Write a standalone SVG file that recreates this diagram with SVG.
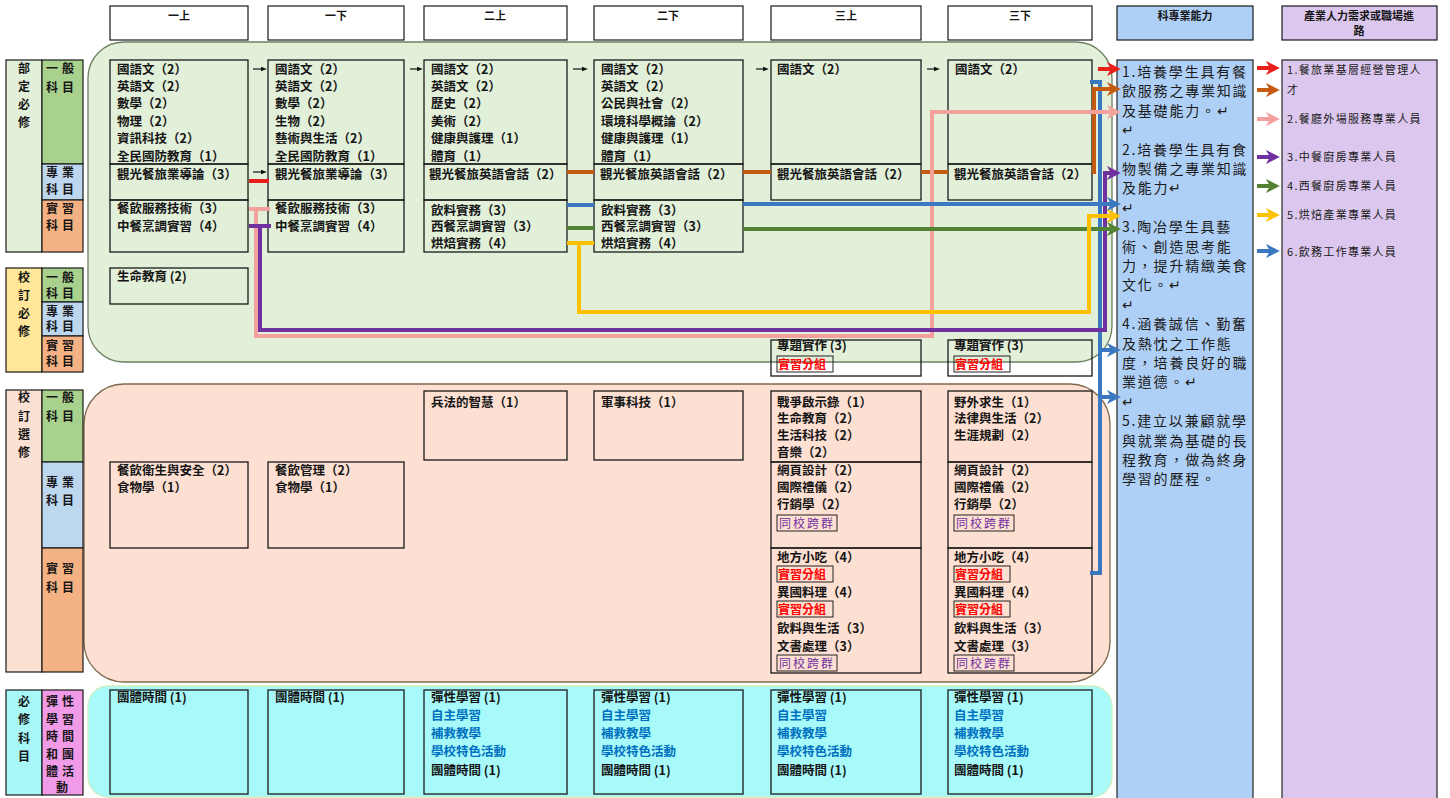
<svg xmlns="http://www.w3.org/2000/svg" width="1450" height="798" viewBox="0 0 1450 798">
<style>
.box{fill:none;stroke:#1a1a1a;stroke-width:1.3}
.hbox{fill:#fff;stroke:#1a1a1a;stroke-width:1.2}
.t{font-family:"Noto Sans CJK TC","Noto Sans CJK SC",sans-serif;font-size:12.5px;font-weight:bold;fill:#151515}
.h{font-size:11px;text-anchor:middle}
.lb{font-size:12px;text-anchor:middle}
.cap{font-size:14px;font-weight:normal;letter-spacing:1.8px;fill:#1a1a1a}
.job{font-size:11px;font-weight:normal;letter-spacing:1.3px;fill:#1a1a1a}
.red{fill:#ff0000;font-size:12px}
.pur{fill:#7030a0;font-weight:normal;font-size:12px;letter-spacing:2px}
.blu{fill:#0070c0}
.tag{fill:none;stroke:#222;stroke-width:1}
.c{fill:none;stroke-width:4;stroke-linejoin:miter}
.k{fill:none;stroke:#111;stroke-width:1.2}
</style>
<defs>
<marker id="aR" viewBox="0 0 10 10" refX="3" refY="5" markerWidth="3.5" markerHeight="3.5" orient="auto"><path d="M0,0 L10,5 L0,10 L3,5 z" fill="#e8201c"/></marker>
<marker id="aO" viewBox="0 0 10 10" refX="3" refY="5" markerWidth="3.5" markerHeight="3.5" orient="auto"><path d="M0,0 L10,5 L0,10 L3,5 z" fill="#c55a11"/></marker>
<marker id="aP" viewBox="0 0 10 10" refX="3" refY="5" markerWidth="3.5" markerHeight="3.5" orient="auto"><path d="M0,0 L10,5 L0,10 L3,5 z" fill="#f4a09c"/></marker>
<marker id="aV" viewBox="0 0 10 10" refX="3" refY="5" markerWidth="3.5" markerHeight="3.5" orient="auto"><path d="M0,0 L10,5 L0,10 L3,5 z" fill="#7030a0"/></marker>
<marker id="aG" viewBox="0 0 10 10" refX="3" refY="5" markerWidth="3.5" markerHeight="3.5" orient="auto"><path d="M0,0 L10,5 L0,10 L3,5 z" fill="#548235"/></marker>
<marker id="aY" viewBox="0 0 10 10" refX="3" refY="5" markerWidth="3.5" markerHeight="3.5" orient="auto"><path d="M0,0 L10,5 L0,10 L3,5 z" fill="#ffc000"/></marker>
<marker id="aB" viewBox="0 0 10 10" refX="3" refY="5" markerWidth="3.5" markerHeight="3.5" orient="auto"><path d="M0,0 L10,5 L0,10 L3,5 z" fill="#3a78c2"/></marker>
<marker id="aK" viewBox="0 0 10 10" refX="2" refY="5" markerWidth="6" markerHeight="6" markerUnits="userSpaceOnUse" orient="auto"><path d="M0,1 L10,5 L0,9 z" fill="#111"/></marker>
</defs>
<rect x="0" y="0" width="1450" height="798" fill="#fff"/>

<!-- background regions -->
<g id="regions">
<rect x="88" y="42" width="1024" height="320" rx="36" ry="36" fill="#e2efd9" stroke="#6f7f63" stroke-width="1.3"/>
<rect x="84" y="384" width="1026" height="298" rx="40" ry="40" fill="#fde0d2" stroke="#7f6a50" stroke-width="1.3"/>
<rect x="88" y="686" width="1024" height="111" rx="20" ry="20" fill="#a8fafa" stroke="#cfeec0" stroke-width="1.3"/>
</g>

<!-- headers -->
<g id="hdr-1"><rect class="hbox" x="110" y="6" width="138" height="34"/><text class="t h" x="179" y="20">一上</text></g>
<g id="hdr-2"><rect class="hbox" x="268" y="6" width="136" height="34"/><text class="t h" x="336" y="20">一下</text></g>
<g id="hdr-3"><rect class="hbox" x="424" y="6" width="143" height="34"/><text class="t h" x="495" y="20">二上</text></g>
<g id="hdr-4"><rect class="hbox" x="594" y="6" width="149" height="34"/><text class="t h" x="668" y="20">二下</text></g>
<g id="hdr-5"><rect class="hbox" x="771" y="6" width="150" height="34"/><text class="t h" x="846" y="20">三上</text></g>
<g id="hdr-6"><rect class="hbox" x="948" y="6" width="144" height="34"/><text class="t h" x="1020" y="20">三下</text></g>
<g id="hdr-ability"><rect x="1117" y="6" width="136" height="34" fill="#afd0f6" stroke="#1a1a1a" stroke-width="1.2"/><text class="t h" x="1185" y="20">科專業能力</text></g>
<g id="hdr-career"><rect x="1282" y="6" width="155" height="34" fill="#dcc8ef" stroke="#1a1a1a" stroke-width="1.2"/><text class="t h" x="1359" y="20">產業人力需求或職場進</text><text class="t h" x="1359" y="35">路</text></g>

<!-- left category labels -->
<g id="cat-dept">
<rect x="6" y="60" width="36" height="192" fill="#e2efd9" stroke="#1a1a1a" stroke-width="1.2"/>
<rect x="42" y="60" width="41" height="104" fill="#a9d18e" stroke="#1a1a1a" stroke-width="1.2"/>
<rect x="42" y="164" width="41" height="36" fill="#bdd7ee" stroke="#1a1a1a" stroke-width="1.2"/>
<rect x="42" y="200" width="41" height="52" fill="#f4b183" stroke="#1a1a1a" stroke-width="1.2"/>
<text class="t lb" x="24" y="73"><tspan>部</tspan><tspan x="24" dy="18">定</tspan><tspan x="24" dy="18">必</tspan><tspan x="24" dy="18">修</tspan></text>
<text class="t lb" x="62" y="73" letter-spacing="4"><tspan>一般</tspan><tspan x="62" dy="19">科目</tspan></text>
<text class="t lb" x="62" y="177" letter-spacing="4"><tspan>專業</tspan><tspan x="62" dy="17">科目</tspan></text>
<text class="t lb" x="62" y="213" letter-spacing="4"><tspan>實習</tspan><tspan x="62" dy="17">科目</tspan></text>
</g>
<g id="cat-school-req">
<rect x="6" y="268" width="36" height="104" fill="#ffe699" stroke="#1a1a1a" stroke-width="1.2"/>
<rect x="42" y="268" width="41" height="34" fill="#a9d18e" stroke="#1a1a1a" stroke-width="1.2"/>
<rect x="42" y="302" width="41" height="34" fill="#bdd7ee" stroke="#1a1a1a" stroke-width="1.2"/>
<rect x="42" y="336" width="41" height="36" fill="#f4b183" stroke="#1a1a1a" stroke-width="1.2"/>
<text class="t lb" x="24" y="282"><tspan>校</tspan><tspan x="24" dy="18">訂</tspan><tspan x="24" dy="18">必</tspan><tspan x="24" dy="18">修</tspan></text>
<text class="t lb" x="62" y="282" letter-spacing="4"><tspan>一般</tspan><tspan x="62" dy="16">科目</tspan></text>
<text class="t lb" x="62" y="316" letter-spacing="4"><tspan>專業</tspan><tspan x="62" dy="15">科目</tspan></text>
<text class="t lb" x="62" y="350" letter-spacing="4"><tspan>實習</tspan><tspan x="62" dy="16">科目</tspan></text>
</g>
<g id="cat-school-elec">
<rect x="6" y="390" width="36" height="282" fill="#fbe0d4" stroke="#1a1a1a" stroke-width="1.2"/>
<rect x="42" y="390" width="41" height="72" fill="#a9d18e" stroke="#1a1a1a" stroke-width="1.2"/>
<rect x="42" y="462" width="41" height="86" fill="#bdd7ee" stroke="#1a1a1a" stroke-width="1.2"/>
<rect x="42" y="548" width="41" height="124" fill="#f4b183" stroke="#1a1a1a" stroke-width="1.2"/>
<text class="t lb" x="24" y="402"><tspan>校</tspan><tspan x="24" dy="19">訂</tspan><tspan x="24" dy="18">選</tspan><tspan x="24" dy="18">修</tspan></text>
<text class="t lb" x="62" y="402" letter-spacing="4"><tspan>一般</tspan><tspan x="62" dy="19">科目</tspan></text>
<text class="t lb" x="62" y="487" letter-spacing="4"><tspan>專業</tspan><tspan x="62" dy="18">科目</tspan></text>
<text class="t lb" x="62" y="573" letter-spacing="4"><tspan>實習</tspan><tspan x="62" dy="19">科目</tspan></text>
</g>
<g id="cat-required">
<rect x="6" y="690" width="36" height="105" fill="#a8f8f8" stroke="#1a1a1a" stroke-width="1.2"/>
<rect x="42" y="690" width="41" height="105" fill="#f09ae8" stroke="#1a1a1a" stroke-width="1.2"/>
<text class="t lb" x="24" y="706"><tspan>必</tspan><tspan x="24" dy="18">修</tspan><tspan x="24" dy="19">科</tspan><tspan x="24" dy="18">目</tspan></text>
<text class="t lb" x="62" y="706" letter-spacing="4"><tspan>彈性</tspan><tspan x="62" dy="17.5">學習</tspan><tspan x="62" dy="17.5">時間</tspan><tspan x="62" dy="17.5">和團</tspan><tspan x="62" dy="17.5">體活</tspan><tspan x="64" dy="16">動</tspan></text>
</g>

<!-- required courses -->
<g id="y1a">
<rect class="box" x="110" y="60" width="138" height="104"/><rect class="box" x="110" y="164" width="138" height="36"/><rect class="box" x="110" y="200" width="138" height="52"/>
<text class="t" x="117" y="73.5"><tspan>國語文（2）</tspan><tspan x="117" dy="17.4">英語文（2）</tspan><tspan x="117" dy="17.4">數學（2）</tspan><tspan x="117" dy="17.4">物理（2）</tspan><tspan x="117" dy="17.4">資訊科技（2）</tspan><tspan x="117" dy="17.4">全民國防教育（1）</tspan></text>
<text class="t" x="117" y="178.5">觀光餐旅業導論（3）</text>
<text class="t" x="117" y="213"><tspan>餐飲服務技術（3）</tspan><tspan x="117" dy="18">中餐烹調實習（4）</tspan></text>
</g>
<g id="y1b">
<rect class="box" x="268" y="60" width="136" height="104"/><rect class="box" x="268" y="164" width="136" height="36"/><rect class="box" x="268" y="200" width="136" height="52"/>
<text class="t" x="275" y="73.5"><tspan>國語文（2）</tspan><tspan x="275" dy="17.4">英語文（2）</tspan><tspan x="275" dy="17.4">數學（2）</tspan><tspan x="275" dy="17.4">生物（2）</tspan><tspan x="275" dy="17.4">藝術與生活（2）</tspan><tspan x="275" dy="17.4">全民國防教育（1）</tspan></text>
<text class="t" x="275" y="178.5">觀光餐旅業導論（3）</text>
<text class="t" x="275" y="213"><tspan>餐飲服務技術（3）</tspan><tspan x="275" dy="18">中餐烹調實習（4）</tspan></text>
</g>
<g id="y2a">
<rect class="box" x="424" y="60" width="143" height="104"/><rect class="box" x="424" y="164" width="143" height="36"/><rect class="box" x="424" y="200" width="143" height="52"/>
<text class="t" x="431" y="73.5"><tspan>國語文（2）</tspan><tspan x="431" dy="17.4">英語文（2）</tspan><tspan x="431" dy="17.4">歷史（2）</tspan><tspan x="431" dy="17.4">美術（2）</tspan><tspan x="431" dy="17.4">健康與護理（1）</tspan><tspan x="431" dy="17.4">體育（1）</tspan></text>
<text class="t" x="429" y="178.5">觀光餐旅英語會話（2）</text>
<text class="t" x="431" y="214.5"><tspan>飲料實務（3）</tspan><tspan x="431" dy="16.5">西餐烹調實習（3）</tspan><tspan x="431" dy="16.5">烘焙實務（4）</tspan></text>
</g>
<g id="y2b">
<rect class="box" x="594" y="60" width="149" height="104"/><rect class="box" x="594" y="164" width="149" height="36"/><rect class="box" x="594" y="200" width="149" height="52"/>
<text class="t" x="601" y="73.5"><tspan>國語文（2）</tspan><tspan x="601" dy="17.4">英語文（2）</tspan><tspan x="601" dy="17.4">公民與社會（2）</tspan><tspan x="601" dy="17.4">環境科學概論（2）</tspan><tspan x="601" dy="17.4">健康與護理（1）</tspan><tspan x="601" dy="17.4">體育（1）</tspan></text>
<text class="t" x="600" y="178.5">觀光餐旅英語會話（2）</text>
<text class="t" x="601" y="214.5"><tspan>飲料實務（3）</tspan><tspan x="601" dy="16.5">西餐烹調實習（3）</tspan><tspan x="601" dy="16.5">烘焙實務（4）</tspan></text>
</g>
<g id="y3a">
<rect class="box" x="771" y="60" width="150" height="104"/><rect class="box" x="771" y="164" width="150" height="36"/>
<text class="t" x="777" y="73.5">國語文（2）</text>
<text class="t" x="777" y="178.5">觀光餐旅英語會話（2）</text>
</g>
<g id="y3b">
<rect class="box" x="948" y="60" width="144" height="104"/><rect class="box" x="948" y="164" width="144" height="36"/>
<text class="t" x="955" y="73.5">國語文（2）</text>
<text class="t" x="954" y="178.5">觀光餐旅英語會話（2）</text>
</g>

<!-- school required -->
<g id="life-edu"><rect class="box" x="110" y="268" width="138" height="36"/><text class="t" x="117" y="281">生命教育 (2)</text></g>
<g id="topic-3a"><rect class="box" x="771" y="340" width="150" height="36"/><text class="t" x="777" y="350">專題實作 (3)</text><rect class="tag" x="777" y="356" width="56" height="16"/><text class="t red" x="778" y="369">實習分組</text></g>
<g id="topic-3b"><rect class="box" x="948" y="340" width="144" height="36"/><text class="t" x="954" y="350">專題實作 (3)</text><rect class="tag" x="954" y="356" width="56" height="16"/><text class="t red" x="955" y="369">實習分組</text></g>

<!-- electives -->
<g id="elec-2a"><rect class="box" x="424" y="391" width="143" height="69"/><text class="t" x="431" y="406.5">兵法的智慧（1）</text></g>
<g id="elec-2b"><rect class="box" x="594" y="391" width="149" height="69"/><text class="t" x="601" y="406.5">軍事科技（1）</text></g>
<g id="elec-1a"><rect class="box" x="110" y="462" width="138" height="86"/><text class="t" x="117" y="474.5"><tspan>餐飲衛生與安全（2）</tspan><tspan x="117" dy="17.5">食物學（1）</tspan></text></g>
<g id="elec-1b"><rect class="box" x="268" y="462" width="136" height="86"/><text class="t" x="275" y="474.5"><tspan>餐飲管理（2）</tspan><tspan x="275" dy="17.5">食物學（1）</tspan></text></g>
<g id="elec-3a">
<rect class="box" x="771" y="391" width="150" height="71"/><rect class="box" x="771" y="462" width="150" height="86"/><rect class="box" x="771" y="548" width="150" height="125"/>
<text class="t" x="777" y="406.5"><tspan>戰爭啟示錄（1）</tspan><tspan x="777" dy="16.8">生命教育（2）</tspan><tspan x="777" dy="16.8">生活科技（2）</tspan><tspan x="777" dy="16.8">音樂（2）</tspan></text>
<text class="t" x="777" y="474.5"><tspan>網頁設計（2）</tspan><tspan x="777" dy="17">國際禮儀（2）</tspan><tspan x="777" dy="17">行銷學（2）</tspan></text>
<rect class="tag" x="777" y="515" width="60" height="16"/><text class="t pur" x="779" y="528">同校跨群</text>
<text class="t" x="777" y="562">地方小吃（4）</text>
<rect class="tag" x="777" y="566" width="56" height="16"/><text class="t red" x="778" y="579">實習分組</text>
<text class="t" x="777" y="597">異國料理（4）</text>
<rect class="tag" x="777" y="601" width="56" height="16"/><text class="t red" x="778" y="614">實習分組</text>
<text class="t" x="777" y="632.5"><tspan>飲料與生活（3）</tspan><tspan x="777" dy="18">文書處理（3）</tspan></text>
<rect class="tag" x="777" y="655" width="60" height="16"/><text class="t pur" x="779" y="668">同校跨群</text>
</g>
<g id="elec-3b">
<rect class="box" x="948" y="391" width="144" height="71"/><rect class="box" x="948" y="462" width="144" height="86"/><rect class="box" x="948" y="548" width="144" height="125"/>
<text class="t" x="954" y="406.5"><tspan>野外求生（1）</tspan><tspan x="954" dy="16.8">法律與生活（2）</tspan><tspan x="954" dy="16.8">生涯規劃（2）</tspan></text>
<text class="t" x="954" y="474.5"><tspan>網頁設計（2）</tspan><tspan x="954" dy="17">國際禮儀（2）</tspan><tspan x="954" dy="17">行銷學（2）</tspan></text>
<rect class="tag" x="954" y="515" width="60" height="16"/><text class="t pur" x="956" y="528">同校跨群</text>
<text class="t" x="954" y="562">地方小吃（4）</text>
<rect class="tag" x="954" y="566" width="56" height="16"/><text class="t red" x="955" y="579">實習分組</text>
<text class="t" x="954" y="597">異國料理（4）</text>
<rect class="tag" x="954" y="601" width="56" height="16"/><text class="t red" x="955" y="614">實習分組</text>
<text class="t" x="954" y="632.5"><tspan>飲料與生活（3）</tspan><tspan x="954" dy="18">文書處理（3）</tspan></text>
<rect class="tag" x="954" y="655" width="60" height="16"/><text class="t pur" x="956" y="668">同校跨群</text>
</g>

<!-- flexible / group time -->
<g id="flex-1a"><rect class="box" x="110" y="690" width="138" height="104"/><text class="t" x="117" y="701.5">團體時間 (1)</text></g>
<g id="flex-1b"><rect class="box" x="268" y="690" width="136" height="104"/><text class="t" x="275" y="701.5">團體時間 (1)</text></g>
<g id="flex-2a"><rect class="box" x="424" y="690" width="143" height="104"/><text class="t" x="431" y="701.5"><tspan>彈性學習 (1)</tspan><tspan class="blu" x="431" dy="18.3">自主學習</tspan><tspan class="blu" x="431" dy="18.3">補救教學</tspan><tspan class="blu" x="431" dy="18.3">學校特色活動</tspan><tspan x="431" dy="18.3">團體時間 (1)</tspan></text></g>
<g id="flex-2b"><rect class="box" x="594" y="690" width="149" height="104"/><text class="t" x="601" y="701.5"><tspan>彈性學習 (1)</tspan><tspan class="blu" x="601" dy="18.3">自主學習</tspan><tspan class="blu" x="601" dy="18.3">補救教學</tspan><tspan class="blu" x="601" dy="18.3">學校特色活動</tspan><tspan x="601" dy="18.3">團體時間 (1)</tspan></text></g>
<g id="flex-3a"><rect class="box" x="771" y="690" width="150" height="104"/><text class="t" x="777" y="701.5"><tspan>彈性學習 (1)</tspan><tspan class="blu" x="777" dy="18.3">自主學習</tspan><tspan class="blu" x="777" dy="18.3">補救教學</tspan><tspan class="blu" x="777" dy="18.3">學校特色活動</tspan><tspan x="777" dy="18.3">團體時間 (1)</tspan></text></g>
<g id="flex-3b"><rect class="box" x="948" y="690" width="144" height="104"/><text class="t" x="954" y="701.5"><tspan>彈性學習 (1)</tspan><tspan class="blu" x="954" dy="18.3">自主學習</tspan><tspan class="blu" x="954" dy="18.3">補救教學</tspan><tspan class="blu" x="954" dy="18.3">學校特色活動</tspan><tspan x="954" dy="18.3">團體時間 (1)</tspan></text></g>

<!-- ability box -->
<g id="ability">
<rect x="1117" y="60" width="136" height="740" fill="#afd0f6" stroke="#333" stroke-width="1.3"/>
<text class="t cap" x="1122" y="77"><tspan>1.培養學生具有餐</tspan><tspan x="1122" dy="19.4">飲服務之專業知識</tspan><tspan x="1122" dy="19.4">及基礎能力。↵</tspan><tspan x="1122" dy="19.4">↵</tspan><tspan x="1122" dy="19.4">2.培養學生具有食</tspan><tspan x="1122" dy="19.4">物製備之專業知識</tspan><tspan x="1122" dy="19.4">及能力↵</tspan><tspan x="1122" dy="19.4">↵</tspan><tspan x="1122" dy="19.4">3.陶冶學生具藝</tspan><tspan x="1122" dy="19.4">術、創造思考能</tspan><tspan x="1122" dy="19.4">力，提升精緻美食</tspan><tspan x="1122" dy="19.4">文化。↵</tspan><tspan x="1122" dy="19.4">↵</tspan><tspan x="1122" dy="19.4">4.涵養誠信、勤奮</tspan><tspan x="1122" dy="19.4">及熱忱之工作態</tspan><tspan x="1122" dy="19.4">度，培養良好的職</tspan><tspan x="1122" dy="19.4">業道德。↵</tspan><tspan x="1122" dy="19.4">↵</tspan><tspan x="1122" dy="19.4">5.建立以兼顧就學</tspan><tspan x="1122" dy="19.4">與就業為基礎的長</tspan><tspan x="1122" dy="19.4">程教育，做為終身</tspan><tspan x="1122" dy="19.4">學習的歷程。</tspan></text>
</g>

<!-- career box -->
<g id="career">
<rect x="1282" y="60" width="155" height="740" fill="#dcc8ef" stroke="#333" stroke-width="1.3"/>
<text class="t job" x="1287" y="74">1.餐旅業基層經營管理人</text>
<text class="t job" x="1287" y="94">才</text>
<text class="t job" x="1287" y="123">2.餐廳外場服務專業人員</text>
<text class="t job" x="1287" y="161">3.中餐廚房專業人員</text>
<text class="t job" x="1287" y="190">4.西餐廚房專業人員</text>
<text class="t job" x="1287" y="219">5.烘焙產業專業人員</text>
<text class="t job" x="1287" y="256">6.飲務工作專業人員</text>
</g>

<!-- connectors -->
<g id="connectors">
<line class="k" x1="253" y1="69" x2="262" y2="69" marker-end="url(#aK)"/>
<line class="k" x1="410" y1="69" x2="418" y2="69" marker-end="url(#aK)"/>
<line class="k" x1="573" y1="69" x2="583" y2="69" marker-end="url(#aK)"/>
<line class="k" x1="756" y1="69" x2="764" y2="69" marker-end="url(#aK)"/>
<line class="k" x1="927" y1="69" x2="935" y2="69" marker-end="url(#aK)"/>
<line class="k" x1="253" y1="172" x2="262" y2="172" marker-end="url(#aK)"/>

<line class="c" stroke="#e8201c" x1="249" y1="181" x2="269" y2="181"/>
<polyline class="c" stroke="#3a78c2" points="1090,82 1100,82 1100,573 1090,573"/>
<polyline class="c" stroke="#c55a11" points="567,172 594,172"/>
<polyline class="c" stroke="#c55a11" points="743,172 771,172"/>
<polyline class="c" stroke="#c55a11" points="921,172 948,172"/>
<polyline class="c" stroke="#c55a11" points="1092,172 1094,172 1094,89 1111,89" marker-end="url(#aO)"/>
<line class="c" stroke="#e8201c" x1="1098" y1="69" x2="1111" y2="69" marker-end="url(#aR)"/>
<polyline class="c" stroke="#f4a09c" points="249,209 256,209 256,336 932,336 932,112 1111,112" marker-end="url(#aP)"/>
<line class="c" stroke="#f4a09c" x1="256" y1="209" x2="270" y2="209"/>
<polyline class="c" stroke="#7030a0" points="249,226 260,226 260,330 1105,330 1105,173 1111,173" marker-end="url(#aV)"/>
<line class="c" stroke="#7030a0" x1="260" y1="226" x2="271" y2="226"/>
<line class="c" stroke="#3a78c2" x1="567" y1="205" x2="594" y2="205"/>
<line class="c" stroke="#3a78c2" x1="743" y1="204" x2="1111" y2="204" marker-end="url(#aB)"/>
<line class="c" stroke="#548235" x1="567" y1="228" x2="594" y2="228"/>
<line class="c" stroke="#548235" x1="743" y1="229" x2="1111" y2="229" marker-end="url(#aG)"/>
<line class="c" stroke="#ffc000" x1="567" y1="243" x2="594" y2="243"/>
<polyline class="c" stroke="#ffc000" points="579,243 579,312 1089,312 1089,216 1111,216" marker-end="url(#aY)"/>
<line class="c" stroke="#3a78c2" x1="1100" y1="350" x2="1111" y2="350" marker-end="url(#aB)"/>
<line class="c" stroke="#3a78c2" x1="1100" y1="397" x2="1111" y2="397" marker-end="url(#aB)"/>

<line class="c" stroke="#e8201c" x1="1257" y1="68" x2="1270" y2="68" marker-end="url(#aR)"/>
<line class="c" stroke="#c55a11" x1="1257" y1="90" x2="1270" y2="90" marker-end="url(#aO)"/>
<line class="c" stroke="#f4a09c" x1="1257" y1="119" x2="1270" y2="119" marker-end="url(#aP)"/>
<line class="c" stroke="#7030a0" x1="1257" y1="157" x2="1270" y2="157" marker-end="url(#aV)"/>
<line class="c" stroke="#548235" x1="1257" y1="186" x2="1270" y2="186" marker-end="url(#aG)"/>
<line class="c" stroke="#ffc000" x1="1257" y1="215" x2="1270" y2="215" marker-end="url(#aY)"/>
<line class="c" stroke="#3a78c2" x1="1257" y1="251" x2="1270" y2="251" marker-end="url(#aB)"/>
</g>
</svg>
